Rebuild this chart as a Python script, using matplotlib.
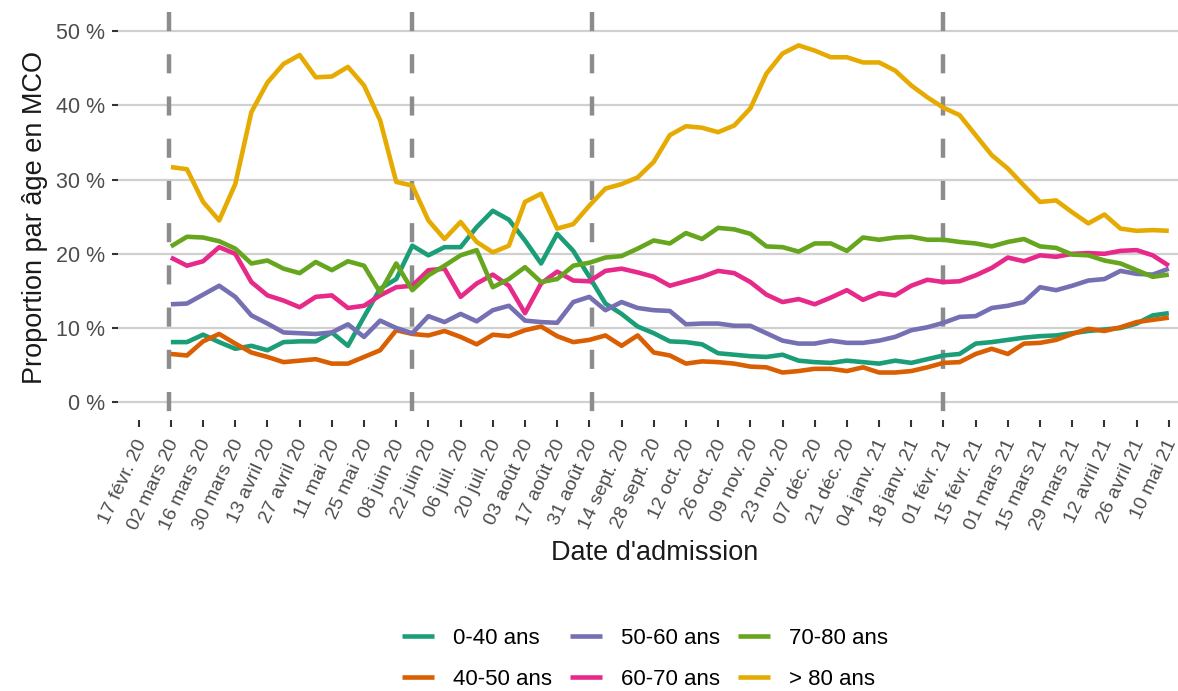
import matplotlib
matplotlib.use("Agg")
import numpy as np
import matplotlib.pyplot as plt
import matplotlib.transforms as mtransforms

plt.rcParams['font.family'] = ['Liberation Sans', 'DejaVu Sans']

# ---------------- data ----------------
week_start = np.datetime64('2020-03-02')
n_weeks = 63
dates = week_start + np.arange(n_weeks) * np.timedelta64(7, 'D')

age_groups = ["0-40 ans", "40-50 ans", "50-60 ans", "60-70 ans", "70-80 ans", "> 80 ans"]
colors = ["#1B9E77", "#D95F02", "#7570B3", "#E7298A", "#66A61E", "#E6AB02"]

v_0_40 = [8.1, 8.1, 9.1, 8.1, 7.2, 7.6, 7.0, 8.1, 8.2, 8.2, 9.4, 7.6, 11.5, 15.3, 16.6,
          21.1, 19.8, 20.9, 20.9, 23.6, 25.8, 24.6, 21.8, 18.7, 22.7, 20.4, 16.9, 13.3, 11.9,
          10.2, 9.3, 8.2, 8.1, 7.8, 6.6, 6.4, 6.2, 6.1, 6.4, 5.6, 5.4, 5.3, 5.6, 5.4, 5.2,
          5.6, 5.3, 5.8, 6.3, 6.5, 7.9, 8.1, 8.4, 8.7, 8.9, 9.0, 9.3, 9.6, 9.8, 10.0, 10.6,
          11.7, 12.0]
v_40_50 = [6.5, 6.3, 8.2, 9.2, 7.9, 6.7, 6.1, 5.4, 5.6, 5.8, 5.2, 5.2, 6.1, 7.0, 9.7,
           9.2, 9.0, 9.6, 8.8, 7.8, 9.1, 8.9, 9.7, 10.2, 8.9, 8.1, 8.4, 9.0, 7.6, 9.0,
           6.7, 6.3, 5.2, 5.5, 5.4, 5.2, 4.8, 4.7, 4.0, 4.2, 4.5, 4.5, 4.2, 4.7, 4.0,
           4.0, 4.2, 4.7, 5.3, 5.4, 6.5, 7.2, 6.5, 7.9, 8.0, 8.4, 9.2, 9.9, 9.6, 10.1,
           10.8, 11.1, 11.4]
v_50_60 = [13.2, 13.3, 14.5, 15.7, 14.2, 11.7, 10.6, 9.4, 9.3, 9.2, 9.4, 10.5, 8.8, 11.0,
           10.0, 9.3, 11.6, 10.8, 11.9, 10.9, 12.4, 13.0, 11.0, 10.8, 10.7, 13.5, 14.2, 12.4,
           13.5, 12.7, 12.4, 12.3, 10.5, 10.6, 10.6, 10.3, 10.3, 9.3, 8.3, 7.9, 7.9, 8.3,
           8.0, 8.0, 8.3, 8.8, 9.7, 10.1, 10.7, 11.5, 11.6, 12.7, 13.0, 13.5, 15.5, 15.1,
           15.7, 16.4, 16.6, 17.7, 17.3, 17.2, 18.0]
v_60_70 = [19.5, 18.4, 19.0, 20.9, 20.0, 16.2, 14.4, 13.7, 12.8, 14.2, 14.4, 12.7, 13.0,
           14.4, 15.5, 15.7, 17.8, 18.0, 14.2, 16.0, 17.2, 15.7, 12.0, 16.0, 17.6, 16.4,
           16.3, 17.7, 18.0, 17.5, 16.9, 15.7, 16.3, 16.9, 17.7, 17.4, 16.2, 14.5, 13.5,
           13.9, 13.2, 14.1, 15.1, 13.8, 14.7, 14.4, 15.7, 16.5, 16.2, 16.3, 17.1, 18.1,
           19.5, 19.0, 19.8, 19.6, 20.0, 20.1, 20.0, 20.4, 20.5, 19.8, 18.4]
v_70_80 = [21.0, 22.3, 22.2, 21.7, 20.7, 18.7, 19.1, 18.0, 17.4, 18.9, 17.8, 19.0, 18.4,
           14.8, 18.7, 15.1, 17.1, 18.4, 19.8, 20.5, 15.5, 16.6, 18.2, 16.2, 16.6, 18.4,
           18.8, 19.5, 19.7, 20.7, 21.8, 21.4, 22.8, 22.0, 23.5, 23.3, 22.7, 21.0, 20.9,
           20.3, 21.4, 21.4, 20.4, 22.2, 21.9, 22.2, 22.3, 21.9, 21.9, 21.6, 21.4, 21.0,
           21.6, 22.0, 21.0, 20.8, 19.9, 19.8, 19.1, 18.7, 17.8, 16.9, 17.2]
v_80p = [31.7, 31.4, 27.0, 24.5, 29.4, 39.1, 43.1, 45.6, 46.8, 43.8, 43.9, 45.2, 42.7,
         38.0, 29.7, 29.2, 24.5, 22.0, 24.3, 21.6, 20.2, 21.1, 27.0, 28.1, 23.4, 24.0,
         26.5, 28.8, 29.4, 30.3, 32.4, 36.0, 37.2, 37.0, 36.4, 37.3, 39.6, 44.3, 47.0,
         48.1, 47.4, 46.5, 46.5, 45.8, 45.8, 44.7, 42.7, 41.1, 39.7, 38.7, 36.0, 33.3,
         31.5, 29.2, 27.0, 27.2, 25.6, 24.1, 25.3, 23.4, 23.1, 23.2, 23.1]
series = [v_0_40, v_40_50, v_50_60, v_60_70, v_70_80, v_80p]

tick_start = np.datetime64('2020-02-17')
tick_labels = ["17 févr. 20", "02 mars 20", "16 mars 20", "30 mars 20", "13 avril 20",
               "27 avril 20", "11 mai 20", "25 mai 20", "08 juin 20", "22 juin 20",
               "06 juil. 20", "20 juil. 20", "03 août 20", "17 août 20", "31 août 20",
               "14 sept. 20", "28 sept. 20", "12 oct. 20", "26 oct. 20", "09 nov. 20",
               "23 nov. 20", "07 déc. 20", "21 déc. 20", "04 janv. 21", "18 janv. 21",
               "01 févr. 21", "15 févr. 21", "01 mars 21", "15 mars 21", "29 mars 21",
               "12 avril 21", "26 avril 21", "10 mai 21"]
tick_dates = tick_start + np.arange(len(tick_labels)) * np.timedelta64(14, 'D')

y_ticks = [0, 10, 20, 30, 40, 50]
y_tick_labels = ["0 %", "10 %", "20 %", "30 %", "40 %", "50 %"]

event_dates = [np.datetime64('2020-03-01'), np.datetime64('2020-06-15'),
               np.datetime64('2020-09-01'), np.datetime64('2021-02-01')]

# ---------------- figure ----------------
W, H = 1178, 691
fig = plt.figure(figsize=(W / 100, H / 100), dpi=100)
ax = fig.add_axes([118 / W, 1 - 420 / H, 1060 / W, 408 / H])

for s in ax.spines.values():
    s.set_visible(False)

ax.set_ylim(-2.4, 52.6)
ax.set_xlim(np.datetime64('2020-02-08'), np.datetime64('2021-05-14'))

ax.yaxis.grid(True, color='#d0d0d0', lw=1.6)
ax.xaxis.grid(False)
ax.set_axisbelow(True)

for d in event_dates:
    ax.plot([d, d], [1, 0], transform=ax.get_xaxis_transform(), color='#8c8c8c',
            lw=3.2, ls=(0, (4.3, 5.2)), zorder=1.5, clip_on=False)

handles = []
for vals, c, lab in zip(series, colors, age_groups):
    h, = ax.plot(dates, vals, color=c, lw=3.3, label=lab, zorder=2,
                 solid_joinstyle='round', solid_capstyle='butt')
    handles.append(h)

ax.set_yticks(y_ticks)
ax.set_yticklabels(y_tick_labels)
ax.set_xticks(tick_dates)
ax.set_xticklabels(tick_labels, rotation=65, ha='right', va='top', rotation_mode='anchor')

ax.tick_params(axis='x', length=5, width=1.5, color='#333333', pad=7,
               labelsize=14, labelcolor='#4d4d4d')
ax.tick_params(axis='y', length=4, width=1.5, color='#333333', pad=5,
               labelsize=15.5, labelcolor='#4d4d4d')

shift = mtransforms.ScaledTranslation(-4 / 100, 0, fig.dpi_scale_trans)
for lbl in ax.get_xticklabels():
    lbl.set_transform(lbl.get_transform() + shift)

fig.text(35 / W, 1 - 217 / H, 'Proportion par âge en MCO', rotation=90,
         ha='center', va='center', fontsize=19.5, color='#1a1a1a')
fig.text(655 / W, 1 - 553 / H, "Date d'admission", ha='center', va='center',
         fontsize=19.5, color='#1a1a1a')

fig.legend(handles, age_groups, ncol=3, loc='center',
           bbox_to_anchor=(645 / W, 1 - 659 / H), frameon=False, fontsize=16,
           handlelength=1.45, handletextpad=0.85, columnspacing=0.8,
           labelspacing=0.9)

fig.savefig('out.png', dpi=100)
